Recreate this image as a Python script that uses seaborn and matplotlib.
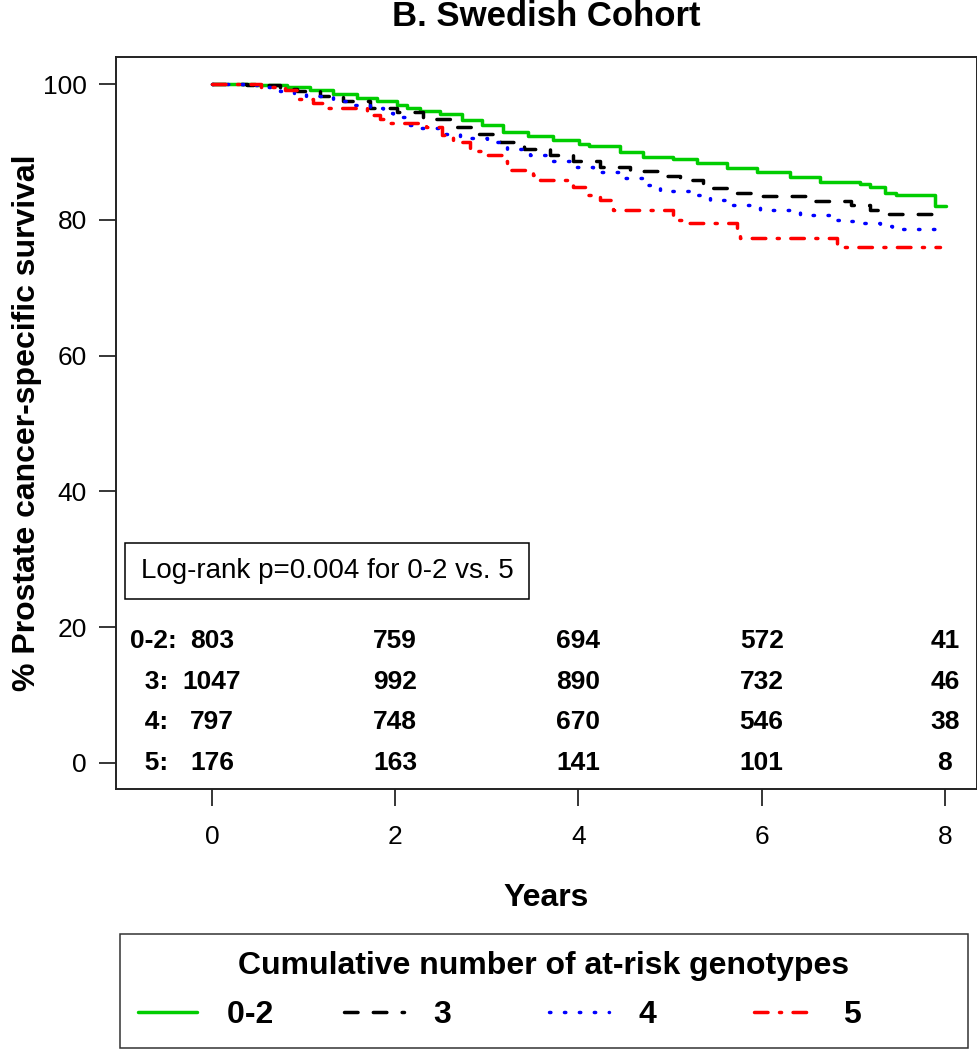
import numpy as np
import pandas as pd
import matplotlib
matplotlib.use('Agg')
import matplotlib.pyplot as plt
import seaborn as sns
from matplotlib.lines import Line2D

sns.set_theme(style='white')
plt.rcParams['font.family'] = ['Liberation Sans', 'DejaVu Sans']
plt.rcParams['text.color'] = 'black'
plt.rcParams['axes.labelcolor'] = 'black'
plt.rcParams['xtick.color'] = 'black'
plt.rcParams['ytick.color'] = 'black'

# Kaplan-Meier curves (years, % survival)
t_02 = [0, 0.47, 0.82, 1.07, 1.32, 1.58, 1.80, 2.02, 2.13, 2.27, 2.49, 2.73, 2.95, 3.18, 3.45,
        3.72, 4.01, 4.12, 4.45, 4.70, 5.03, 5.29, 5.62, 5.95, 6.31, 6.64, 7.07, 7.18, 7.35,
        7.47, 7.89, 8.01]
s_02 = [100, 99.8, 99.6, 99.1, 98.5, 98.0, 97.5, 96.9, 96.4, 96.0, 95.6, 94.7, 94.0, 93.0, 92.4,
        91.8, 91.2, 90.8, 90.0, 89.3, 89.0, 88.4, 87.6, 87.1, 86.3, 85.6, 85.3, 84.9, 84.0,
        83.6, 82.1, 82.1]

t_3 = [0, 0.38, 0.74, 0.93, 1.18, 1.43, 1.72, 2.02, 2.30, 2.60, 2.89, 3.14, 3.40, 3.69, 3.94,
       4.24, 4.56, 4.89, 5.11, 5.36, 5.65, 5.90, 6.53, 6.98, 7.18, 7.37, 7.86]
s_3 = [100, 99.8, 99.3, 99.0, 98.3, 97.5, 96.5, 95.9, 94.8, 93.7, 92.7, 91.5, 90.4, 89.5, 88.6,
       87.8, 87.2, 86.4, 85.9, 84.7, 83.9, 83.5, 82.8, 82.2, 81.4, 80.9, 80.9]

t_4 = [0, 0.34, 0.60, 0.74, 0.89, 1.03, 1.32, 1.47, 1.72, 1.87, 1.98, 2.13, 2.24, 2.49, 2.71,
       3.00, 3.22, 3.47, 3.72, 3.91, 4.16, 4.45, 4.75, 4.89, 5.25, 5.44, 5.69, 5.98, 6.42,
       6.75, 6.86, 7.00, 7.29, 7.42, 7.91]
s_4 = [100, 99.85, 99.6, 99.0, 98.6, 98.3, 97.5, 96.9, 96.4, 95.7, 95.1, 94.0, 93.5, 92.6, 92.0,
       91.5, 90.5, 89.5, 88.6, 87.8, 87.1, 86.1, 85.1, 84.3, 83.7, 82.9, 82.2, 81.4, 80.7,
       80.0, 79.8, 79.5, 79.1, 78.6, 78.6]

t_5 = [0, 0.54, 0.80, 0.94, 1.10, 1.21, 1.69, 1.72, 1.83, 1.92, 2.34, 2.51, 2.63, 2.82, 2.98,
       3.16, 3.22, 3.50, 3.58, 3.94, 4.09, 4.24, 4.38, 5.03, 5.18, 5.73, 5.76, 6.82, 7.95]
s_5 = [100, 99.5, 99.1, 97.8, 97.2, 96.5, 96.1, 95.4, 94.9, 94.3, 93.7, 92.5, 91.5, 90.2, 89.5,
       88.6, 87.3, 86.6, 85.9, 84.9, 83.7, 82.9, 81.4, 80.0, 79.5, 78.1, 77.3, 76.0, 76.0]

groups = ['0-2', '3', '4', '5']
colors = ['#00CD00', 'black', '#0000FF', '#FF0000']
styles = ['-', (0, (3.9, 4.4)), (0, (0.4, 3.9)), (0, (3.9, 3.3, 0.6, 3.3))]

# numbers at risk
risk_times = [0, 2, 4, 6, 8]
risk_labels = ['0-2:', '  3:', '  4:', '  5:']
risk_rows_y = [18, 12, 6, 0]
n_02 = [803, 759, 694, 572, 41]
n_3 = [1047, 992, 890, 732, 46]
n_4 = [797, 748, 670, 546, 38]
n_5 = [176, 163, 141, 101, 8]

curves = [(t_02, s_02), (t_3, s_3), (t_4, s_4), (t_5, s_5)]
risk = [n_02, n_3, n_4, n_5]

fig = plt.figure(figsize=(9.78, 10.5), dpi=100)
ax = fig.add_axes([116 / 978, 1 - 789 / 1050, 861 / 978, 732 / 1050])

lw = 2.5
handles = []
for g, (tt, ss), c, ls in zip(groups, curves, colors, styles):
    df = pd.DataFrame({'Years': tt, 'Survival': ss})
    sns.lineplot(data=df, x='Years', y='Survival', ax=ax, color=c, linestyle=ls,
                 linewidth=lw, drawstyle='steps-post', estimator=None,
                 dash_capstyle='round', legend=False)
    handles.append(Line2D([], [], color=c, linestyle=ls, linewidth=lw, dash_capstyle='round'))

ax.set_xlim(-1.048, 8.35)
ax.set_ylim(-3.83, 103.98)
ax.set_xticks([0, 2, 4, 6, 8])
ax.set_yticks([0, 20, 40, 60, 80, 100])
ax.tick_params(axis='both', direction='out', length=12, width=1.1, colors='black',
               labelsize=19, left=True, bottom=True)
ax.tick_params(axis='x', pad=14)
ax.tick_params(axis='y', pad=9)
ax.set_xlabel('')
ax.set_ylabel('')
for sp in ax.spines.values():
    sp.set_visible(True)
    sp.set_color('#222222')
    sp.set_linewidth(1.4)

# numbers at risk table
for lab, y, row in zip(risk_labels, risk_rows_y, risk):
    ax.text(-0.895, y, lab, fontsize=19, fontweight='bold', ha='left', va='center')
    for x, n in zip(risk_times, row):
        ax.text(x, y, str(n), fontsize=19, fontweight='bold', ha='center', va='center')

ax.text(1.255, 28.3, 'Log-rank p=0.004 for 0-2 vs. 5', fontsize=20, ha='center', va='center',
        bbox=dict(boxstyle='square,pad=0.55', fc='white', ec='black', lw=1.1))

fig.text(546 / 978, 1 - 16 / 1050, 'B. Swedish Cohort', fontsize=25, fontweight='bold',
         ha='center', va='center')
fig.text(546 / 978, 1 - 898 / 1050, 'Years', fontsize=23, fontweight='bold',
         ha='center', va='center')
fig.text(27 / 978, 1 - 423 / 1050, '% Prostate cancer-specific survival', fontsize=23,
         fontweight='bold', rotation=90, ha='center', va='center')

leg_labels = ['0-2' + ' ' * 7, '3' + ' ' * 10, '4' + ' ' * 10, '5' + ' ' * 10]
leg = fig.legend(handles, leg_labels, loc='lower left',
                 bbox_to_anchor=(120 / 978, 1 - 1048 / 1050, 848 / 978, 113 / 1050),
                 mode='expand', ncol=4, title='Cumulative number of at-risk genotypes',
                 borderaxespad=0, borderpad=0.55, labelspacing=0.6, handlelength=1.875,
                 handletextpad=0.94, frameon=True, fancybox=False,
                 prop={'weight': 'bold', 'size': 23},
                 title_fontproperties={'weight': 'bold', 'size': 23})
leg.get_frame().set_edgecolor('black')
leg.get_frame().set_linewidth(1.1)

fig.savefig('out.png', dpi=100)
